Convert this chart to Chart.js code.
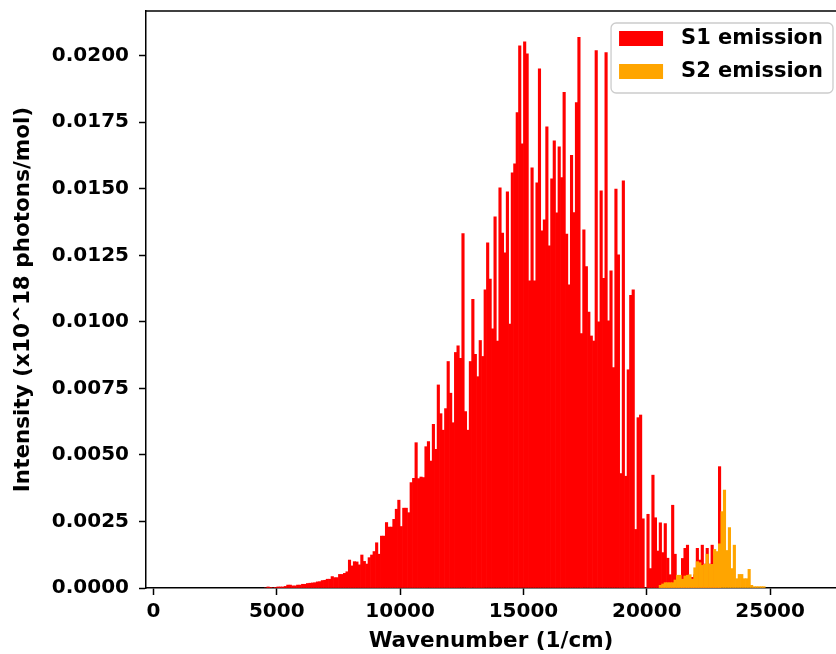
<!DOCTYPE html>
<html>
<head>
<meta charset="utf-8">
<script src="https://cdn.jsdelivr.net/npm/chart.js@4.4.1/dist/chart.umd.min.js"></script>
<style>
  html, body { margin: 0; padding: 0; background: #fff; }
</style>
</head>
<body>
<canvas id="emissionChart" width="836" height="654"></canvas>
<script>
// histogram bins are 100 cm^-1 wide, first bin edge of each series below
const binWidth = 100;
const s1FirstBin = 4500;
const s2FirstBin = 20500;

// S1 emission, 4500 .. 22900 (1/cm)
const s1Values = [
  0, 0.00004, 0.00002, 0, 0.00002, 0.00004, 0.00004, 0.00004, 0.00006, 0.00011,
  0.00011, 0.00008, 0.00008, 0.00011, 0.00011, 0.00014, 0.00014, 0.00017, 0.00018, 0.00019,
  0.0002, 0.00023, 0.00024, 0.00028, 0.00029, 0.00033, 0.00033, 0.00043, 0.00039, 0.00039,
  0.00051, 0.00051, 0.00055, 0.00061, 0.00105, 0.00083, 0.00099, 0.00098, 0.00087, 0.00124,
  0.001, 0.0009, 0.00114, 0.00124, 0.00137, 0.0017, 0.00127, 0.00195, 0.00195, 0.00246,
  0.00229, 0.00229, 0.00258, 0.00296, 0.0033, 0.00231, 0.003, 0.003, 0.00283, 0.00396,
  0.00412, 0.00546, 0.00411, 0.00417, 0.00415, 0.00531, 0.0055, 0.00477, 0.00615, 0.00521,
  0.00763, 0.00655, 0.00593, 0.00674, 0.00851, 0.00732, 0.00621, 0.00885, 0.0091, 0.00863,
  0.01332, 0.00663, 0.00593, 0.00851, 0.01085, 0.00878, 0.00794, 0.0093, 0.0087, 0.0112,
  0.01297, 0.01161, 0.00974, 0.01395, 0.00928, 0.01504, 0.01334, 0.01259, 0.01489, 0.00992,
  0.0156, 0.01594, 0.01786, 0.02037, 0.01669, 0.02052, 0.02007, 0.01154, 0.01579, 0.01154,
  0.01522, 0.01951, 0.01342, 0.01383, 0.01733, 0.01286, 0.01537, 0.0168, 0.0141, 0.01658,
  0.01542, 0.01862, 0.0133, 0.01139, 0.01626, 0.01411, 0.01824, 0.02069, 0.00956, 0.01346,
  0.01208, 0.01037, 0.00947, 0.00928, 0.02019, 0.01, 0.01492, 0.01164, 0.02012, 0.01004,
  0.01192, 0.00828, 0.01499, 0.01252, 0.0043, 0.0153, 0.0042, 0.0082, 0.011, 0.0112,
  0.0022, 0.0064, 0.0065, 0.0026, 0, 0.00277, 0.00073, 0.00424, 0.00264, 0.00139,
  0.00245, 0.00133, 0.00242, 0.00112, 0.0005, 0.00311, 0.00127, 0.0003, 0.0003, 0.00111,
  0.00149, 0.00161, 0.0004, 0.0004, 0.0005, 0.00149, 0.00105, 0.00161, 0.0009, 0.00149,
  0.0009, 0.00161, 0.0012, 0.0012, 0.00456,
];

// S2 emission, 20500 .. 24700 (1/cm)
const s2Values = [
  0.0001, 0.00015, 0.0002, 0.0002, 0.0002, 0.0002, 0.0003, 0.00048, 0.00048, 0.00033,
  0.00045, 0.00048, 0.0005, 0.00033, 0.00076, 0.00099, 0.00095, 0.00085, 0.00089, 0.00127,
  0.00089, 0.00089, 0.00145, 0.00137, 0.00166, 0.00287, 0.00368, 0.00141, 0.00227, 0.00073,
  0.00161, 0.00035, 0.00051, 0.00051, 0.00035, 0.00035, 0.0007, 0.0001, 0.00005, 0.00005,
  0.00005, 0.00005, 0.00005,
];

const xTicks = [0, 5000, 10000, 15000, 20000, 25000];
const yTicks = [0, 0.0025, 0.005, 0.0075, 0.01, 0.0125, 0.015, 0.0175, 0.02];
const xMin = -300;
const xMax = 27670;
const yMax = 0.02168;

const tickFont = { family: '"DejaVu Sans"', size: 20, weight: 'bold' };
const titleFont = { family: '"DejaVu Sans"', size: 21.5, weight: 'bold' };

// bar sits in the middle of its bin
const toPoints = (first, values) => values.map((v, i) => ({ x: first + i * binWidth + binWidth / 2, y: v }));

// top spine + matplotlib-like legend box in the upper right corner
const frameAndLegend = {
  id: 'frameAndLegend',
  afterDraw(chart) {
    const { ctx, chartArea } = chart;
    ctx.save();
    ctx.strokeStyle = '#000';
    ctx.lineWidth = 1.5;
    ctx.beginPath();
    ctx.moveTo(chartArea.left, chartArea.top);
    ctx.lineTo(chart.width, chartArea.top);
    ctx.stroke();

    const sets = chart.data.datasets;
    ctx.font = 'bold 21px "DejaVu Sans"';
    const textW = Math.max(...sets.map((d) => ctx.measureText(d.label).width));
    const boxW = 8 + 44 + 18 + textW + 10;
    const boxH = 70;
    const bx = chart.width - 3 - boxW;
    const by = chartArea.top + 12;

    ctx.beginPath();
    ctx.roundRect(bx, by, boxW, boxH, 5);
    ctx.fillStyle = 'rgba(255,255,255,0.8)';
    ctx.fill();
    ctx.strokeStyle = '#cccccc';
    ctx.lineWidth = 1.3;
    ctx.stroke();

    sets.forEach((d, i) => {
      const py = by + 8 + i * 33;
      ctx.fillStyle = d.backgroundColor;
      ctx.fillRect(bx + 8, py, 44, 15);
      ctx.fillStyle = '#000';
      ctx.textBaseline = 'middle';
      ctx.textAlign = 'left';
      ctx.fillText(d.label, bx + 8 + 44 + 18, py + 8);
    });
    ctx.restore();
  },
};

const ctx = document.getElementById('emissionChart').getContext('2d');

new Chart(ctx, {
  type: 'bar',
  data: {
    datasets: [
      {
        label: 'S1 emission',
        data: toPoints(s1FirstBin, s1Values),
        backgroundColor: '#ff0000',
        order: 2,
      },
      {
        label: 'S2 emission',
        data: toPoints(s2FirstBin, s2Values),
        backgroundColor: '#ffa500',
        order: 1,
      },
    ],
  },
  options: {
    responsive: false,
    animation: false,
    devicePixelRatio: 1,
    layout: {
      padding: { top: 11, right: 0, bottom: 0, left: 0 },
    },
    datasets: {
      bar: {
        grouped: false,
        barPercentage: 1,
        categoryPercentage: 1,
        borderWidth: 0,
      },
    },
    plugins: {
      legend: { display: false },
      tooltip: { enabled: false },
    },
    scales: {
      x: {
        type: 'linear',
        offset: false,
        min: xMin,
        max: xMax,
        grid: {
          offset: false,
          drawOnChartArea: false,
          tickLength: 7,
          tickWidth: 1.5,
          tickColor: '#000',
        },
        border: { color: '#000', width: 1.5 },
        ticks: {
          color: '#000',
          font: tickFont,
          padding: 5,
          maxRotation: 0,
          callback: (v) => String(v),
        },
        afterBuildTicks: (axis) => {
          axis.ticks = xTicks.map((v) => ({ value: v }));
        },
        afterFit: (axis) => {
          axis.height = 66;
          axis.paddingLeft = 0;
          axis.paddingRight = 0;
        },
        title: {
          display: true,
          text: 'Wavenumber (1/cm)',
          color: '#000',
          font: titleFont,
          padding: { top: 0, bottom: 0 },
        },
      },
      y: {
        min: 0,
        max: yMax,
        grid: {
          drawOnChartArea: false,
          tickLength: 7,
          tickWidth: 1.5,
          tickColor: '#000',
        },
        border: { color: '#000', width: 1.5 },
        ticks: {
          color: '#000',
          font: tickFont,
          padding: 10,
          callback: (v) => v.toFixed(4),
        },
        afterBuildTicks: (axis) => {
          axis.ticks = yTicks.map((v) => ({ value: v }));
        },
        afterFit: (axis) => {
          axis.width = 146;
          axis.paddingTop = 0;
          axis.paddingBottom = 0;
        },
        title: {
          display: true,
          text: 'Intensity (x10^18 photons/mol)',
          color: '#000',
          font: titleFont,
          padding: { top: 11, bottom: 0 },
        },
      },
    },
  },
  plugins: [frameAndLegend],
});
</script>
</body>
</html>
